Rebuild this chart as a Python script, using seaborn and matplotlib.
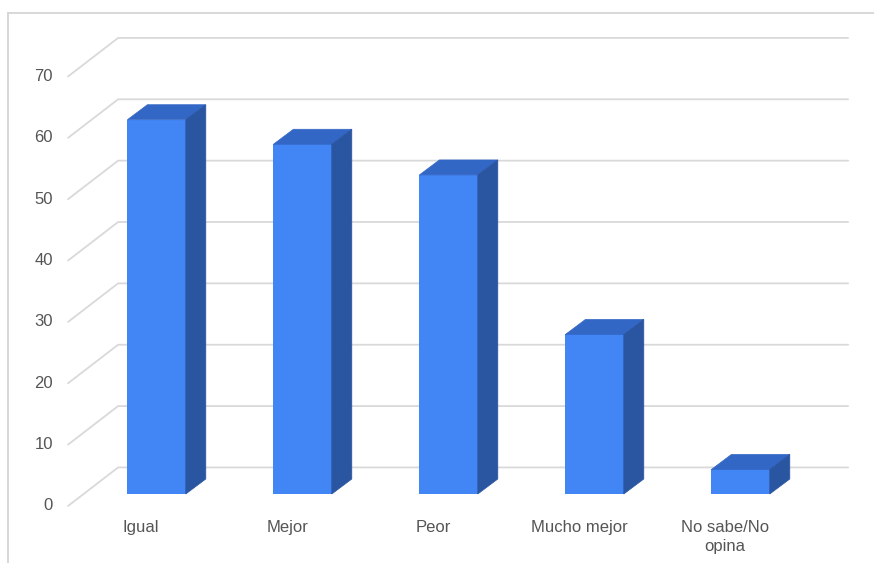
import matplotlib
matplotlib.use("Agg")
import matplotlib.pyplot as plt
import matplotlib.transforms as mtransforms
from matplotlib.patches import Polygon
from matplotlib.lines import Line2D
import seaborn as sns

# Survey answers and counts
categories = ["Igual", "Mejor", "Peor", "Mucho mejor", "No sabe/No\nopina"]
values = [61, 57, 52, 26, 4]
yticks = [0, 10, 20, 30, 40, 50, 60, 70]

FRONT = "#4285F4"
TOP = "#3367C6"
SIDE = "#2A55A0"
GRID = "#d9d9d9"
TEXT = "#555555"

sns.set_theme(style="white")
plt.rcParams["font.family"] = ["Liberation Sans", "DejaVu Sans"]

W, H = 874, 563
fig = plt.figure(figsize=(W / 100, H / 100), dpi=100)

# Axes spans the plane of the bars' front faces (pixel geometry)
x0, x1 = 83.6, 813.6
yb, yt = 494.0, 64.5
ax = fig.add_axes([x0 / W, (H - yb) / H, (x1 - x0) / W, (yb - yt) / H])

sns.barplot(x=list(range(len(categories))), y=values, width=0.4, color=FRONT,
            saturation=1, ax=ax, zorder=3, linewidth=0)
ax.set_xlim(-0.5, len(categories) - 0.5)
ax.set_ylim(0, 70)
ax.axis("off")

# 3D depth: full floor depth vector in pixels; bars sit at depth 0.31..0.71
DEPTH_X, DEPTH_Y = 50.0, 38.5
BAR_D = 0.31
BAR_DX, BAR_DY = 20.0, 15.0


def shifted(d, extra_x=0.0, extra_y=0.0):
    """Data transform moved to depth d (plus an extra pixel shift)."""
    ox = (d - BAR_D) * DEPTH_X + extra_x
    oy = (d - BAR_D) * DEPTH_Y + extra_y
    return ax.transData + mtransforms.ScaledTranslation(ox / 100, oy / 100,
                                                        fig.dpi_scale_trans)


# gridlines: diagonal on the left wall, horizontal on the back wall
front_t = shifted(0.0)
back_t = shifted(1.0)
for v in yticks:
    p0 = front_t.transform((-0.5, v))
    p1 = back_t.transform((-0.5, v))
    p2 = back_t.transform((len(categories) - 0.5, v))
    ax.add_artist(Line2D([p0[0], p1[0], p2[0]], [p0[1], p1[1], p2[1]],
                         transform=None, color=GRID, lw=1.3, zorder=0,
                         clip_on=False))
    ax.text(-0.5, v, str(v), transform=shifted(0.0, -15, 0), ha="right",
            va="center", fontsize=12, color=TEXT)

# top and side faces of each bar
px_x = ax.transData.transform((1, 0))[0] - ax.transData.transform((0, 0))[0]
px_y = ax.transData.transform((0, 1))[1] - ax.transData.transform((0, 0))[1]
ddx, ddy = BAR_DX / px_x, BAR_DY / px_y
for bar in ax.patches[:len(values)]:
    left = bar.get_x()
    right = left + bar.get_width()
    top = bar.get_height()
    ax.add_patch(Polygon([(left, top), (left + ddx, top + ddy),
                          (right + ddx, top + ddy), (right, top)],
                         closed=True, facecolor=TOP, edgecolor=TOP, lw=0.5,
                         zorder=3, clip_on=False))
    ax.add_patch(Polygon([(right, 0), (right + ddx, ddy),
                          (right + ddx, top + ddy), (right, top)],
                         closed=True, facecolor=SIDE, edgecolor=SIDE, lw=0.5,
                         zorder=3, clip_on=False))

# category labels under the front edge of the floor
for i, name in enumerate(categories):
    ax.text(i, 0, name, transform=shifted(0.0, 0, -14), ha="center",
            va="top", fontsize=12, color=TEXT, linespacing=1.3)

# chart frame
fig.add_artist(Line2D([8 / W, 1], [1 - 13 / H, 1 - 13 / H],
                      transform=fig.transFigure, color="#d4d4d4", lw=1.3))
fig.add_artist(Line2D([8 / W, 8 / W], [1 - 13 / H, 0],
                      transform=fig.transFigure, color="#d4d4d4", lw=1.3))

fig.savefig("out.png", dpi=100, facecolor="white")
